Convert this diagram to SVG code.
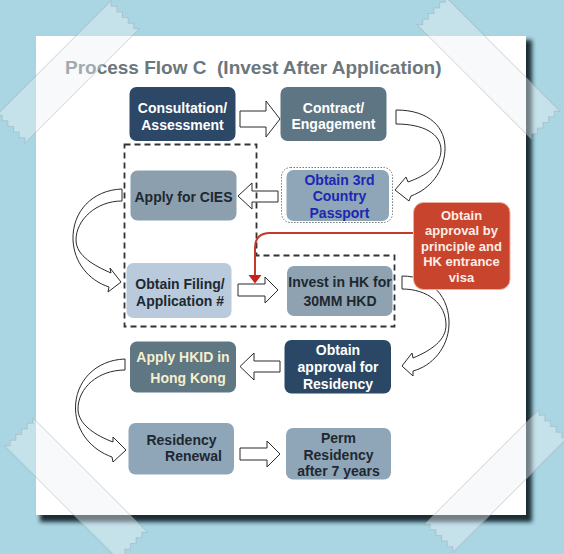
<svg xmlns="http://www.w3.org/2000/svg" xmlns:xlink="http://www.w3.org/1999/xlink" width="564" height="554" viewBox="0 0 564 554">
<style>
text{font-family:"Liberation Sans",Arial,Helvetica,sans-serif;font-weight:bold}
.t{font-size:14px;text-anchor:middle}
.tr{font-size:13px;text-anchor:middle;fill:#fbeee8}
.w{fill:#ffffff}
.d{fill:#1e2830}
.arw{fill:#ffffff;stroke:#2a2a2a;stroke-width:1;stroke-linejoin:miter}
.tape{fill:rgba(236,241,243,0.42);stroke:rgba(140,150,155,0.3);stroke-width:1}
</style>
<defs>
<filter id="sh" x="-10%" y="-10%" width="120%" height="120%"><feGaussianBlur stdDeviation="2"/></filter>
<path id="tp" d="M-81,-20 L-77,-16 L-81,-12 L-77,-8 L-81,-4 L-77,0 L-81,4 L-77,8 L-81,12 L-77,16 L-81,20 L81,20 L77,16 L81,12 L77,8 L81,4 L77,0 L81,-4 L77,-8 L81,-12 L77,-16 L81,-20 Z"/>
</defs>
<rect x="0" y="0" width="564" height="554" fill="#aad6e4"/>
<rect x="40" y="40" width="492" height="482" fill="#1e2e35" filter="url(#sh)"/>
<rect x="36" y="36" width="490" height="479" fill="#ffffff"/>

<text x="65" y="74" font-size="19" fill="#6b777c" xml:space="preserve" style="white-space:pre">Process Flow C  (Invest After Application)</text>

<g id="connectors">
<path class="arw" d="M240,111 L266,111 L266,101 L280,119 L266,137 L266,127 L240,127 Z"/>
<path class="arw" d="M396,110 C430,110 446,128 445,150 C444,172 430,189 411,196 L409,201 L395,190 L406,177 L408,182 C425,176 441,166 441,150 C441,134 424,124 396,124 Z"/>
<path class="arw" d="M278,191 L252,191 L252,183 L238,196 L252,209 L252,202 L278,202 Z"/>
<path class="arw" d="M122,189 C92,190 72,212 73,240 C74,262 88,280 109,287 L108,292 L121,282 L110,268 L111,273 C95,266 76,256 76,240 C76,220 96,201 122,201 Z"/>
<path class="arw" d="M238,284 L265,284 L265,277 L278,290 L265,303 L265,296 L238,296 Z"/>
<path class="arw" d="M402,276 C432,276 450,298 449,325 C448,348 432,366 413,371 L413,376 L402,366 L412,353 L413,358 C432,350 446,340 446,325 C446,304 428,289 402,289 Z"/>
<path class="arw" d="M280,361 L254,361 L254,353 L240,366.5 L254,380 L254,372 L280,372 Z"/>
<path class="arw" d="M125,359 C95,360 75,382 75.5,409 C76,432 92,450 112,457 L113,462 L126,450 L113,437 L113,442 C97,436 78,425 78,409 C78,388 98,370 125,370 Z"/>
<path class="arw" d="M240,448 L267,448 L267,441 L280,454 L267,467 L267,460 L240,460 Z"/>
<path d="M124.5,144.5 L256.5,144.5 L256.5,255.5 L394.5,255.5 L394.5,326.5 L124.5,326.5 Z" fill="none" stroke="#333" stroke-width="1.8" stroke-dasharray="6 4"/>
<path d="M413,233 L270,233 Q255,233 255,248 L255,276" fill="none" stroke="#c23b2a" stroke-width="2"/>
<polygon points="248.5,275 261.5,275 255,283.5" fill="#c8201c"/>
</g>

<g id="n1"><rect x="129.5" y="87" width="106" height="54" rx="7" fill="#2c4866"/>
<text class="t w" x="182.5" y="112.5">Consultation/</text><text class="t w" x="182.5" y="129.5">Assessment</text></g>
<g id="n2"><rect x="280.5" y="87" width="106" height="54" rx="7" fill="#5e7584"/>
<text class="t w" x="333.5" y="112.5">Contract/</text><text class="t w" x="333.5" y="129">Engagement</text></g>
<g id="n3"><rect x="130.5" y="170.5" width="106" height="50" rx="7" fill="#8c9fae"/>
<text class="t d" x="183.5" y="201.5">Apply for CIES</text></g>
<g id="n4"><rect x="281.5" y="167.5" width="111" height="55" rx="9" fill="none" stroke="#777" stroke-width="1" stroke-dasharray="1.5 1.5"/>
<rect x="286.5" y="170" width="102.5" height="51" rx="7" fill="#8ea6b8"/>
<text class="t" fill="#1c28b0" x="339.5" y="184.5">Obtain 3rd</text><text class="t" fill="#1c28b0" x="339.5" y="201">Country</text><text class="t" fill="#1c28b0" x="339.5" y="217.5">Passport</text></g>
<g id="n5"><rect x="126.5" y="263" width="105" height="55" rx="7" fill="#b9cadd"/>
<text class="t d" x="180" y="289">Obtain Filing/</text><text class="t d" x="180" y="305.5">Application #</text></g>
<g id="n6"><rect x="287" y="266" width="105.5" height="50" rx="7" fill="#8ea2b1"/>
<text class="t d" x="340" y="286.5">Invest in HK for</text><text class="t d" x="340" y="306">30MM HKD</text></g>
<g id="n7"><rect x="413.5" y="202.5" width="96.5" height="87" rx="10" fill="#c9442c" stroke="#eab0a2" stroke-width="1"/>
<text class="tr" x="461.5" y="219.5">Obtain</text><text class="tr" x="461.5" y="235">approval by</text><text class="tr" x="461.5" y="250.5">principle and</text><text class="tr" x="461.5" y="266">HK entrance</text><text class="tr" x="461.5" y="281.5">visa</text></g>
<g id="n8"><rect x="130" y="341.5" width="106" height="51" rx="7" fill="#5f7683"/>
<text class="t" fill="#f3efcf" x="183" y="361.5">Apply HKID in</text><text class="t" fill="#f3efcf" x="188" y="383">Hong Kong</text></g>
<g id="n9"><rect x="284.5" y="340" width="106.5" height="53.5" rx="7" fill="#2a4866"/>
<text class="t w" x="338" y="355">Obtain</text><text class="t w" x="338" y="372">approval for</text><text class="t w" x="338" y="388.5">Residency</text></g>
<g id="n10"><rect x="128.5" y="423" width="105.5" height="51.5" rx="7" fill="#8fa5b8"/>
<text class="t d" x="181.5" y="445">Residency</text><text class="t d" x="193.5" y="461">Renewal</text></g>
<g id="n11"><rect x="286" y="428" width="105" height="51.5" rx="7" fill="#8fa5b8"/>
<text class="t d" x="338.5" y="442.5">Perm</text><text class="t d" x="338.5" y="459.5">Residency</text><text class="t d" x="338.5" y="476">after 7 years</text></g>

<use href="#tp" xlink:href="#tp" class="tape" transform="translate(68,72) rotate(-45)"/>
<use href="#tp" xlink:href="#tp" class="tape" transform="translate(488.5,68) rotate(45)"/>
<use href="#tp" xlink:href="#tp" class="tape" transform="translate(76,489) rotate(45)"/>
<use href="#tp" xlink:href="#tp" class="tape" transform="translate(496,481) rotate(-45)"/>
</svg>
